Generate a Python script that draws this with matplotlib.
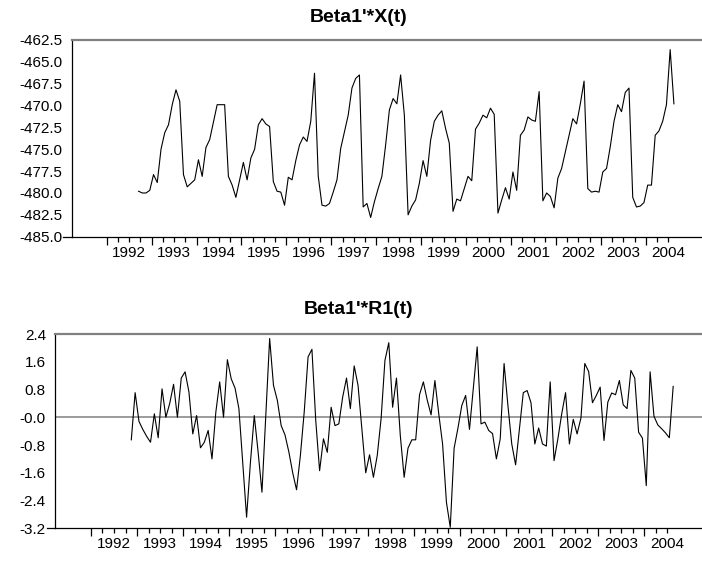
import numpy as np
import pandas as pd
import matplotlib
matplotlib.use("Agg")
import matplotlib.pyplot as plt

plt.rcParams['font.family'] = ['Liberation Sans', 'DejaVu Sans']

# monthly series
x_start = "1992-09"
x_vals = [
    -479.8, -480.0, -480.0, -479.7, -477.9, -478.8, -475.0, -473.1, -472.2, -469.9, -468.2, -469.5,
    -477.9, -479.3, -478.9, -478.5, -476.2, -478.1, -474.8, -473.9, -471.9, -469.9, -469.9, -469.9,
    -478.1, -479.1, -480.5, -478.5, -476.5, -478.5, -476.0, -475.0, -472.2, -471.5, -472.1, -472.4,
    -478.7, -479.8, -479.9, -481.4, -478.2, -478.5, -476.3, -474.5, -473.6, -474.1, -471.8, -466.3,
    -478.1, -481.4, -481.5, -481.2, -479.9, -478.5, -474.9, -473.0, -471.1, -468.0, -466.9, -466.5,
    -481.6, -481.2, -482.8, -481.0, -479.5, -478.1, -474.5, -470.5, -469.2, -469.8, -466.5, -471.1,
    -482.5, -481.5, -480.8, -478.9, -476.3, -478.1, -474.0, -471.8, -471.1, -470.6, -472.6, -474.3,
    -482.1, -480.7, -480.9, -479.5, -478.1, -478.6, -472.7, -472.0, -471.1, -471.4, -470.3, -471.0,
    -482.3, -480.8, -479.4, -480.7, -477.6, -479.7, -473.4, -472.8, -471.3, -471.65, -471.8, -468.4,
    -480.9, -480.0, -480.4, -481.7, -478.3, -477.2, -475.3, -473.4, -471.5, -472.1, -469.8, -467.2,
    -479.5, -479.9, -479.8, -479.9, -477.6, -477.2, -474.7, -471.8, -469.9, -470.7, -468.5, -468.0,
    -480.5, -481.6, -481.5, -481.1, -479.1, -479.1, -473.4, -472.9, -471.8, -469.9, -463.6, -469.8,
]

r1_start = "1992-11"
r1_vals = [
    -0.65, 0.71, -0.12, -0.35, -0.55, -0.72, 0.10, -0.59, 0.82, 0.0, 0.4, 0.95,
    0.0, 1.13, 1.31, 0.73, -0.48, 0.05, -0.88, -0.72, -0.38, -1.2, 0.15, 1.02,
    0.0, 1.66, 1.11, 0.84, 0.25, -1.3, -2.88, -1.3, 0.05, -1.0, -2.16, 0.05,
    2.27, 0.92, 0.49, -0.24, -0.51, -1.0, -1.6, -2.09, -1.10, 0.16, 1.74, 1.96,
    -0.1, -1.54, -0.62, -1.01, 0.29, -0.24, -0.19, 0.58, 1.13, 0.25, 1.48, 0.92,
    -0.33, -1.60, -1.08, -1.73, -1.10, -0.04, 1.64, 2.15, 0.29, 1.13, -0.53, -1.73,
    -0.89, -0.65, -0.65, 0.65, 1.02, 0.5, 0.07, 1.06, 0.10, -0.77, -2.45, -3.17,
    -0.89, -0.31, 0.34, 0.63, -0.35, 0.84, 2.03, -0.19, -0.14, -0.38, -0.47, -1.2,
    -0.62, 1.55, 0.34, -0.77, -1.37, -0.33, 0.71, 0.77, 0.42, -0.77, -0.31, -0.77,
    -0.83, 1.02, -1.25, -0.62, 0.10, 0.71, -0.77, -0.06, -0.48, -0.02, 1.55, 1.32,
    0.42, 0.63, 0.87, -0.67, 0.44, 0.70, 0.65, 1.06, 0.36, 0.25, 1.35, 1.13,
    -0.43, -0.60, -1.97, 1.31, 0.03, -0.22, -0.33, -0.45, -0.59, 0.89,
]

years = list(range(1992, 2005))
top_ticks = [-485.0, -482.5, -480.0, -477.5, -475.0, -472.5, -470.0, -467.5, -465.0, -462.5]
bot_ticks = [-3.2, -2.4, -1.6, -0.8, 0.0, 0.8, 1.6, 2.4]
bot_labels = ["-3.2", "-2.4", "-1.6", "-0.8", "-0.0", "0.8", "1.6", "2.4"]


def dec_year(start, n):
    p = pd.period_range(start, periods=n, freq="M")
    return np.asarray(p.year + (p.month - 0.5) / 12.0)


def style(ax, ticks, labels, ylim):
    ax.set_xlim(1991.22, 2005.25)
    ax.set_ylim(*ylim)
    ax.spines['right'].set_visible(False)
    ax.spines['top'].set_color('#808080')
    ax.spines['top'].set_linewidth(1.6)
    for s in ('left', 'bottom'):
        ax.spines[s].set_color('black')
        ax.spines[s].set_linewidth(0.9)
    ax.set_yticks(ticks)
    ax.set_yticklabels(labels)
    ax.tick_params(axis='y', length=0, pad=6.5, labelsize=11)
    ax.set_xticks(years)
    quarters = [y + q / 4 for y in years for q in (1, 2, 3)]
    quarters = [q for q in quarters if q <= 2004.5]
    ax.set_xticks(quarters, minor=True)
    ax.tick_params(axis='x', which='major', direction='out', length=6, width=0.9,
                   labelbottom=False)
    ax.tick_params(axis='x', which='minor', direction='out', length=3.5, width=0.9)
    for y in years:
        ax.text(y + 0.5, 0, str(y), transform=ax.get_xaxis_transform(),
                ha='center', va='top', fontsize=11,
                bbox=None).set_y(-0.045)
    # bottom axis line sticks out a bit to the left
    ax.plot([-0.013, 0], [0, 0], transform=ax.transAxes, color='black',
            lw=0.9, clip_on=False)


fig = plt.figure(figsize=(7.02, 5.61), dpi=100)

ax1 = fig.add_axes([0.1021, 0.5781, 0.8979, 0.3506])
ax1.plot(dec_year(x_start, len(x_vals)), x_vals, color='black', lw=0.8)
style(ax1, top_ticks, [f"{v:.1f}" for v in top_ticks], (-485.0, -462.5))

ax2 = fig.add_axes([0.0783, 0.0583, 0.9217, 0.3463])
ax2.axhline(0, color='#808080', lw=1.1)
ax2.plot(dec_year(r1_start, len(r1_vals)), r1_vals, color='black', lw=0.8)
style(ax2, bot_ticks, bot_labels, (-3.2, 2.4))

fig.text(358.5 / 702, 1 - 18 / 561, "Beta1'*X(t)", ha='center', va='center',
         fontsize=14, fontweight='bold')
fig.text(359 / 702, 1 - 310 / 561, "Beta1'*R1(t)", ha='center', va='center',
         fontsize=14, fontweight='bold')

fig.savefig("out.png", dpi=100)
